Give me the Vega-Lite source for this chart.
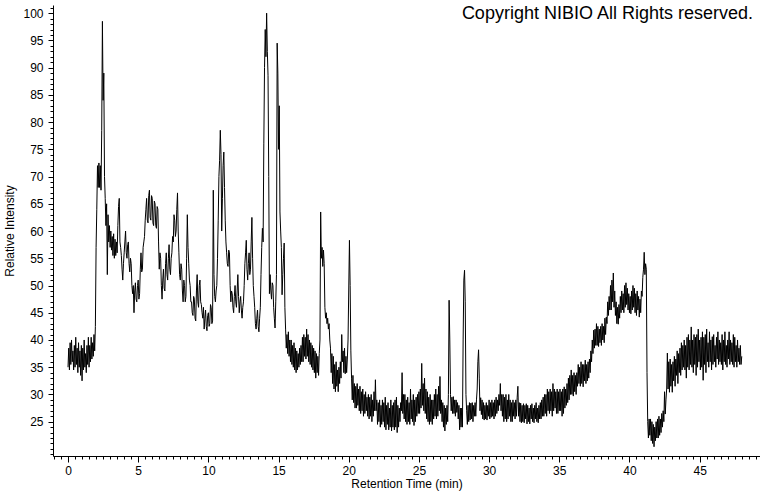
{
  "$schema": "https://vega.github.io/schema/vega-lite/v6.json",
  "width": 707,
  "height": 451,
  "autosize": {"type": "none"},
  "padding": {"left": 53, "top": 5, "right": 0, "bottom": 36},
  "background": "white",
  "config": {"view": {"stroke": null}, "font": "Liberation Sans"},
  "title": {"text": "Copyright NIBIO All Rights reserved.", "anchor": "end", "frame": "group", "orient": "top", "offset": -18, "dx": -7, "fontSize": 18, "fontWeight": "normal", "color": "black", "font": "Liberation Sans"},
  "data": {"values": [
{"t":0.00,"v":35},{"t":0.05,"v":38.5},{"t":0.10,"v":34.5},{"t":0.15,"v":39.5},{"t":0.20,"v":35.5},{"t":0.25,"v":40},{"t":0.30,"v":36},{"t":0.35,"v":38},{"t":0.40,"v":34.5},{"t":0.45,"v":39},{"t":0.50,"v":35},{"t":0.55,"v":40.5},{"t":0.60,"v":35.5},{"t":0.65,"v":38.5},{"t":0.70,"v":34},{"t":0.75,"v":39.5},{"t":0.80,"v":35},{"t":0.85,"v":38},{"t":0.90,"v":33.5},{"t":0.95,"v":39},
{"t":1.00,"v":32.5},{"t":1.05,"v":38.5},{"t":1.10,"v":34.5},{"t":1.15,"v":40},{"t":1.20,"v":35},{"t":1.25,"v":37.5},{"t":1.30,"v":34},{"t":1.35,"v":39},{"t":1.40,"v":35.5},{"t":1.45,"v":40.5},{"t":1.50,"v":35},{"t":1.55,"v":39},{"t":1.60,"v":36},{"t":1.65,"v":40.5},{"t":1.70,"v":36.5},{"t":1.75,"v":39.5},{"t":1.80,"v":37},{"t":1.85,"v":41},{"t":1.90,"v":38},{"t":1.95,"v":42.5},
{"t":2.0,"v":57},{"t":2.05,"v":64},{"t":2.1,"v":72},{"t":2.15,"v":68},{"t":2.2,"v":72.5},{"t":2.25,"v":68},{"t":2.3,"v":72},{"t":2.35,"v":67.5},{"t":2.4,"v":78.5},{"t":2.45,"v":98.5},{"t":2.5,"v":84},{"t":2.55,"v":89},{"t":2.6,"v":70},{"t":2.65,"v":66},{"t":2.7,"v":61},{"t":2.75,"v":65},{"t":2.8,"v":52},{"t":2.85,"v":63},{"t":2.9,"v":58},{"t":2.95,"v":61},
{"t":3.0,"v":57},{"t":3.05,"v":60},{"t":3.1,"v":56.5},{"t":3.15,"v":59},{"t":3.2,"v":55.5},{"t":3.25,"v":59.5},{"t":3.3,"v":55},{"t":3.35,"v":58.5},{"t":3.4,"v":55.5},{"t":3.45,"v":58},{"t":3.5,"v":56},{"t":3.55,"v":61},{"t":3.6,"v":64.5},{"t":3.65,"v":66},{"t":3.7,"v":58},{"t":3.75,"v":57},{"t":3.8,"v":55.5},{"t":3.85,"v":53},{"t":3.9,"v":51},{"t":3.95,"v":54},
{"t":4.0,"v":56},{"t":4.05,"v":58},{"t":4.1,"v":60},{"t":4.15,"v":56},{"t":4.2,"v":55},{"t":4.25,"v":57.5},{"t":4.3,"v":58},{"t":4.35,"v":54},{"t":4.4,"v":52.5},{"t":4.45,"v":55},{"t":4.5,"v":54},{"t":4.55,"v":50},{"t":4.6,"v":48.5},{"t":4.65,"v":50},{"t":4.7,"v":45},{"t":4.75,"v":49},{"t":4.8,"v":50.5},{"t":4.85,"v":47.5},{"t":4.9,"v":47},{"t":4.95,"v":50},
{"t":5.0,"v":51},{"t":5.05,"v":47.5},{"t":5.1,"v":48.5},{"t":5.15,"v":53},{"t":5.2,"v":56},{"t":5.25,"v":52.5},{"t":5.3,"v":53},{"t":5.35,"v":57},{"t":5.4,"v":58},{"t":5.45,"v":59},{"t":5.5,"v":62},{"t":5.55,"v":64},{"t":5.6,"v":66},{"t":5.65,"v":62},{"t":5.7,"v":61.5},{"t":5.75,"v":66.5},{"t":5.8,"v":67.5},{"t":5.85,"v":62.5},{"t":5.9,"v":62},{"t":5.95,"v":66.5},
{"t":6.0,"v":66},{"t":6.05,"v":61.5},{"t":6.1,"v":61},{"t":6.15,"v":65.5},{"t":6.2,"v":65},{"t":6.25,"v":61},{"t":6.3,"v":60.5},{"t":6.35,"v":64.5},{"t":6.4,"v":64},{"t":6.45,"v":58},{"t":6.5,"v":53},{"t":6.55,"v":56},{"t":6.6,"v":55},{"t":6.65,"v":50},{"t":6.7,"v":47.5},{"t":6.75,"v":51},{"t":6.8,"v":53},{"t":6.85,"v":49.5},{"t":6.9,"v":49},{"t":6.95,"v":54},
{"t":7.0,"v":56},{"t":7.05,"v":52},{"t":7.1,"v":51},{"t":7.15,"v":55},{"t":7.2,"v":57.5},{"t":7.25,"v":53},{"t":7.3,"v":52},{"t":7.35,"v":55},{"t":7.4,"v":56},{"t":7.45,"v":59},{"t":7.5,"v":58},{"t":7.55,"v":63},{"t":7.6,"v":62},{"t":7.65,"v":59},{"t":7.7,"v":60},{"t":7.75,"v":64},{"t":7.8,"v":67},{"t":7.85,"v":60},{"t":7.9,"v":56},{"t":7.95,"v":52},
{"t":8.0,"v":51},{"t":8.05,"v":54},{"t":8.1,"v":53},{"t":8.15,"v":49},{"t":8.2,"v":47},{"t":8.25,"v":51},{"t":8.3,"v":50},{"t":8.35,"v":47},{"t":8.4,"v":48},{"t":8.45,"v":55},{"t":8.5,"v":63},{"t":8.55,"v":57},{"t":8.6,"v":54},{"t":8.65,"v":51},{"t":8.7,"v":50},{"t":8.75,"v":47},{"t":8.8,"v":47},{"t":8.85,"v":45},{"t":8.9,"v":44.5},{"t":8.95,"v":48},
{"t":9.0,"v":47.5},{"t":9.05,"v":44},{"t":9.1,"v":43.5},{"t":9.15,"v":49},{"t":9.2,"v":52},{"t":9.25,"v":47},{"t":9.3,"v":46},{"t":9.35,"v":50},{"t":9.4,"v":51},{"t":9.45,"v":47},{"t":9.5,"v":46.5},{"t":9.55,"v":45},{"t":9.6,"v":44},{"t":9.65,"v":46},{"t":9.7,"v":42},{"t":9.75,"v":44},{"t":9.8,"v":45.5},{"t":9.85,"v":42.5},{"t":9.9,"v":41.7},{"t":9.95,"v":44.5},
{"t":10.0,"v":45},{"t":10.05,"v":42.5},{"t":10.1,"v":43},{"t":10.15,"v":46.5},{"t":10.2,"v":46},{"t":10.25,"v":43},{"t":10.3,"v":43.5},{"t":10.35,"v":67.5},{"t":10.4,"v":52},{"t":10.45,"v":48},{"t":10.5,"v":47},{"t":10.55,"v":49},{"t":10.6,"v":50},{"t":10.65,"v":55},{"t":10.7,"v":62},{"t":10.75,"v":70},{"t":10.8,"v":73},{"t":10.85,"v":78.5},{"t":10.9,"v":74},{"t":10.95,"v":60},
{"t":11.0,"v":66},{"t":11.05,"v":72},{"t":11.1,"v":74.5},{"t":11.15,"v":68},{"t":11.2,"v":62},{"t":11.25,"v":58},{"t":11.3,"v":56},{"t":11.35,"v":54},{"t":11.4,"v":53.5},{"t":11.45,"v":56.5},{"t":11.5,"v":56},{"t":11.55,"v":50},{"t":11.6,"v":47},{"t":11.65,"v":49},{"t":11.7,"v":48.5},{"t":11.75,"v":46},{"t":11.8,"v":45},{"t":11.85,"v":48},{"t":11.9,"v":50},{"t":11.95,"v":47},
{"t":12.0,"v":46},{"t":12.05,"v":49},{"t":12.1,"v":52},{"t":12.15,"v":48},{"t":12.2,"v":45},{"t":12.25,"v":47},{"t":12.3,"v":48},{"t":12.35,"v":45.5},{"t":12.4,"v":44},{"t":12.45,"v":46},{"t":12.5,"v":47},{"t":12.55,"v":50},{"t":12.6,"v":54},{"t":12.65,"v":56},{"t":12.7,"v":58.3},{"t":12.75,"v":53},{"t":12.8,"v":51},{"t":12.85,"v":54},{"t":12.9,"v":56},{"t":12.95,"v":52},
{"t":13.0,"v":53},{"t":13.05,"v":58},{"t":13.1,"v":62.5},{"t":13.15,"v":55},{"t":13.2,"v":50},{"t":13.25,"v":48},{"t":13.3,"v":46},{"t":13.35,"v":43},{"t":13.4,"v":42},{"t":13.45,"v":44},{"t":13.5,"v":45.5},{"t":13.55,"v":42.5},{"t":13.6,"v":41.5},{"t":13.65,"v":44},{"t":13.7,"v":46},{"t":13.75,"v":52},{"t":13.8,"v":57},{"t":13.85,"v":60.5},{"t":13.9,"v":58},{"t":13.95,"v":76},
{"t":14.0,"v":90},{"t":14.05,"v":97},{"t":14.1,"v":92},{"t":14.15,"v":100},{"t":14.2,"v":93},{"t":14.25,"v":88.5},{"t":14.3,"v":70},{"t":14.35,"v":48.5},{"t":14.4,"v":52},{"t":14.45,"v":49},{"t":14.5,"v":47.5},{"t":14.55,"v":50.5},{"t":14.6,"v":50},{"t":14.65,"v":46},{"t":14.7,"v":44},{"t":14.75,"v":42.2},{"t":14.8,"v":47},{"t":14.85,"v":52},{"t":14.9,"v":94.5},{"t":14.95,"v":89},
{"t":15.0,"v":75},{"t":15.05,"v":83},{"t":15.1,"v":63.5},{"t":15.15,"v":60},{"t":15.2,"v":57},{"t":15.25,"v":48.3},{"t":15.3,"v":52},{"t":15.35,"v":55},{"t":15.4,"v":57.8},{"t":15.45,"v":46},
{"t":15.50,"v":42},{"t":15.55,"v":38.5},{"t":15.60,"v":41},{"t":15.65,"v":37.5},{"t":15.70,"v":41.5},{"t":15.75,"v":37},{"t":15.80,"v":40},{"t":15.85,"v":36},{"t":15.90,"v":40},{"t":15.95,"v":35.5},
{"t":16.00,"v":39},{"t":16.05,"v":35},{"t":16.10,"v":39.5},{"t":16.15,"v":34.5},{"t":16.20,"v":38.5},{"t":16.25,"v":34},{"t":16.30,"v":38},{"t":16.35,"v":34.5},{"t":16.40,"v":37.5},{"t":16.45,"v":35},{"t":16.50,"v":38.5},{"t":16.55,"v":35.5},{"t":16.60,"v":39},{"t":16.65,"v":36},{"t":16.70,"v":40.5},{"t":16.75,"v":36},{"t":16.80,"v":41},{"t":16.85,"v":37},{"t":16.90,"v":40.5},{"t":16.95,"v":36.5},
{"t":17.00,"v":42},{"t":17.05,"v":37},{"t":17.10,"v":41},{"t":17.15,"v":36},{"t":17.20,"v":40},{"t":17.25,"v":35.5},{"t":17.30,"v":39.5},{"t":17.35,"v":35},{"t":17.40,"v":39},{"t":17.45,"v":34.5},{"t":17.50,"v":38.5},{"t":17.55,"v":34},{"t":17.60,"v":38},{"t":17.65,"v":33},{"t":17.70,"v":37.5},{"t":17.75,"v":34},{"t":17.80,"v":37},{"t":17.85,"v":33.5},{"t":17.90,"v":37.5},{"t":17.95,"v":40},
{"t":18.0,"v":63.5},{"t":18.05,"v":55},{"t":18.1,"v":57},{"t":18.15,"v":53.5},{"t":18.2,"v":56.5},{"t":18.25,"v":54},{"t":18.3,"v":46},{"t":18.35,"v":44},{"t":18.4,"v":45},{"t":18.45,"v":43},{"t":18.5,"v":44},{"t":18.55,"v":42},{"t":18.6,"v":43},{"t":18.65,"v":40},{"t":18.7,"v":38.5},
{"t":18.75,"v":34},{"t":18.80,"v":37.5},{"t":18.85,"v":32},{"t":18.90,"v":37},{"t":18.95,"v":31},{"t":19.00,"v":35.5},{"t":19.05,"v":30.5},{"t":19.10,"v":36},{"t":19.15,"v":31.5},{"t":19.20,"v":34.5},{"t":19.25,"v":30.5},{"t":19.30,"v":35},{"t":19.35,"v":32},{"t":19.40,"v":36},{"t":19.45,"v":33},{"t":19.50,"v":41},{"t":19.55,"v":36},{"t":19.60,"v":38},{"t":19.65,"v":34},{"t":19.70,"v":38.5},{"t":19.75,"v":33.8},{"t":19.80,"v":37},{"t":19.85,"v":34},{"t":19.90,"v":36.5},{"t":19.95,"v":40},
{"t":20.05,"v":58.3},{"t":20.1,"v":50},{"t":20.15,"v":38},
{"t":20.20,"v":33},{"t":20.25,"v":29},{"t":20.30,"v":33.5},{"t":20.35,"v":28.5},{"t":20.40,"v":32},{"t":20.45,"v":27.5},{"t":20.50,"v":31.5},{"t":20.55,"v":27.5},{"t":20.60,"v":32},{"t":20.65,"v":28},{"t":20.70,"v":31},{"t":20.75,"v":27},{"t":20.80,"v":31.5},{"t":20.85,"v":26.5},{"t":20.90,"v":30.5},{"t":20.95,"v":27},
{"t":21.00,"v":31},{"t":21.05,"v":26},{"t":21.10,"v":30},{"t":21.15,"v":26.5},{"t":21.20,"v":30.5},{"t":21.25,"v":27},{"t":21.30,"v":29.5},{"t":21.35,"v":26},{"t":21.40,"v":30},{"t":21.45,"v":25.5},{"t":21.50,"v":29.5},{"t":21.55,"v":26},{"t":21.60,"v":30},{"t":21.65,"v":25},{"t":21.70,"v":29},{"t":21.75,"v":26},{"t":21.80,"v":30.5},{"t":21.85,"v":27},{"t":21.90,"v":32.7},{"t":21.95,"v":27},
{"t":22.00,"v":29},{"t":22.05,"v":24.5},{"t":22.10,"v":28.5},{"t":22.15,"v":25},{"t":22.20,"v":29},{"t":22.25,"v":24},{"t":22.30,"v":28},{"t":22.35,"v":24.5},{"t":22.40,"v":29},{"t":22.45,"v":25},{"t":22.50,"v":28.5},{"t":22.55,"v":24},{"t":22.60,"v":29.5},{"t":22.65,"v":23.5},{"t":22.70,"v":28},{"t":22.75,"v":24.5},{"t":22.80,"v":28.5},{"t":22.85,"v":23.5},{"t":22.90,"v":27.5},{"t":22.95,"v":24},
{"t":23.00,"v":29},{"t":23.05,"v":23.3},{"t":23.10,"v":28},{"t":23.15,"v":24},{"t":23.20,"v":28.5},{"t":23.25,"v":23.5},{"t":23.30,"v":29},{"t":23.35,"v":24},{"t":23.40,"v":29.5},{"t":23.45,"v":23},{"t":23.50,"v":28},{"t":23.55,"v":24},{"t":23.60,"v":27.5},{"t":23.65,"v":25},{"t":23.70,"v":28.5},{"t":23.75,"v":27},{"t":23.80,"v":34},{"t":23.85,"v":26.5},{"t":23.90,"v":30},{"t":23.95,"v":25.5},
{"t":24.00,"v":30},{"t":24.05,"v":25},{"t":24.10,"v":29},{"t":24.15,"v":24.5},{"t":24.20,"v":29.5},{"t":24.25,"v":25},{"t":24.30,"v":28.5},{"t":24.35,"v":24.5},{"t":24.40,"v":31},{"t":24.45,"v":25.5},{"t":24.50,"v":29},{"t":24.55,"v":25},{"t":24.60,"v":30},{"t":24.65,"v":24.3},{"t":24.70,"v":29},{"t":24.75,"v":25},{"t":24.80,"v":29.5},{"t":24.85,"v":26},{"t":24.90,"v":30},{"t":24.95,"v":26.5},
{"t":25.00,"v":30.5},{"t":25.05,"v":26.5},{"t":25.10,"v":31},{"t":25.15,"v":27.5},{"t":25.20,"v":35.7},{"t":25.25,"v":28},{"t":25.30,"v":32},{"t":25.35,"v":27},{"t":25.40,"v":33},{"t":25.45,"v":26.5},{"t":25.50,"v":31},{"t":25.55,"v":25.5},{"t":25.60,"v":30.5},{"t":25.65,"v":25},{"t":25.70,"v":29.5},{"t":25.75,"v":24.5},{"t":25.80,"v":30},{"t":25.85,"v":25},{"t":25.90,"v":29},{"t":25.95,"v":24.5},
{"t":26.00,"v":29},{"t":26.05,"v":25.5},{"t":26.10,"v":30},{"t":26.15,"v":26},{"t":26.20,"v":31},{"t":26.25,"v":25.5},{"t":26.30,"v":30},{"t":26.35,"v":26},{"t":26.40,"v":31.5},{"t":26.45,"v":27},{"t":26.50,"v":33.3},{"t":26.55,"v":26.5},{"t":26.60,"v":29},{"t":26.65,"v":25},{"t":26.70,"v":28.5},{"t":26.75,"v":24},{"t":26.80,"v":28},{"t":26.85,"v":23.3},{"t":26.90,"v":27.5},{"t":26.95,"v":24.5},
{"t":27.00,"v":28},{"t":27.05,"v":25},{"t":27.10,"v":30},{"t":27.15,"v":47.3},{"t":27.20,"v":40},{"t":27.25,"v":30},{"t":27.30,"v":27},{"t":27.35,"v":29.5},{"t":27.40,"v":26.5},{"t":27.45,"v":29.6},{"t":27.50,"v":26.5},{"t":27.55,"v":29},{"t":27.60,"v":26},{"t":27.65,"v":29},{"t":27.70,"v":26.7},{"t":27.75,"v":28.5},{"t":27.80,"v":25.5},{"t":27.85,"v":28},{"t":27.90,"v":23.5},{"t":27.95,"v":27.5},
{"t":28.00,"v":24},{"t":28.05,"v":27.5},{"t":28.10,"v":24},{"t":28.15,"v":40},{"t":28.20,"v":51},{"t":28.25,"v":52.8},{"t":28.30,"v":47},{"t":28.35,"v":30},{"t":28.40,"v":27},{"t":28.45,"v":24.5},{"t":28.50,"v":28},{"t":28.55,"v":25},{"t":28.60,"v":28.5},{"t":28.65,"v":25.3},{"t":28.70,"v":28.4},{"t":28.75,"v":25.5},{"t":28.80,"v":28.5},{"t":28.85,"v":25},{"t":28.90,"v":28},{"t":28.95,"v":26},
{"t":29.00,"v":28.5},{"t":29.05,"v":26},{"t":29.10,"v":29},{"t":29.15,"v":31},{"t":29.20,"v":36},{"t":29.25,"v":38.2},{"t":29.30,"v":33},{"t":29.35,"v":27},{"t":29.40,"v":29.4},{"t":29.45,"v":26.3},{"t":29.50,"v":29},{"t":29.55,"v":25.5},{"t":29.60,"v":28.5},{"t":29.65,"v":25.3},{"t":29.70,"v":28},{"t":29.75,"v":25.5},{"t":29.80,"v":28.5},{"t":29.85,"v":25.3},{"t":29.90,"v":28},{"t":29.95,"v":26},
{"t":30.00,"v":29},{"t":30.05,"v":25.5},{"t":30.10,"v":28.5},{"t":30.15,"v":25.8},{"t":30.20,"v":29},{"t":30.25,"v":26},{"t":30.30,"v":28.5},{"t":30.35,"v":25.5},{"t":30.40,"v":29},{"t":30.45,"v":26},{"t":30.50,"v":29.5},{"t":30.55,"v":26.5},{"t":30.60,"v":29},{"t":30.65,"v":27},{"t":30.70,"v":30},{"t":30.75,"v":28},{"t":30.80,"v":32},{"t":30.85,"v":27},{"t":30.90,"v":30},{"t":30.95,"v":26},
{"t":31.00,"v":30},{"t":31.05,"v":25},{"t":31.10,"v":29.5},{"t":31.15,"v":25.5},{"t":31.20,"v":30},{"t":31.25,"v":25},{"t":31.30,"v":29},{"t":31.35,"v":25.5},{"t":31.40,"v":30},{"t":31.45,"v":26},{"t":31.50,"v":29},{"t":31.55,"v":25},{"t":31.60,"v":28.5},{"t":31.65,"v":25},{"t":31.70,"v":29},{"t":31.75,"v":26},{"t":31.80,"v":28.5},{"t":31.85,"v":25.5},{"t":31.90,"v":29},{"t":31.95,"v":26},
{"t":32.00,"v":29.5},{"t":32.05,"v":31.5},{"t":32.10,"v":26},{"t":32.15,"v":28.5},{"t":32.20,"v":25},{"t":32.25,"v":28.4},{"t":32.30,"v":24.8},{"t":32.35,"v":28},{"t":32.40,"v":25},{"t":32.45,"v":28.3},{"t":32.50,"v":24.8},{"t":32.55,"v":28},{"t":32.60,"v":25.5},{"t":32.65,"v":28.3},{"t":32.70,"v":24.6},{"t":32.75,"v":28},{"t":32.80,"v":25},{"t":32.85,"v":27.5},{"t":32.90,"v":24.6},{"t":32.95,"v":28},
{"t":33.00,"v":25.5},{"t":33.05,"v":28.3},{"t":33.10,"v":25},{"t":33.15,"v":27.5},{"t":33.20,"v":24.8},{"t":33.25,"v":28},{"t":33.30,"v":25.5},{"t":33.35,"v":28.5},{"t":33.40,"v":25},{"t":33.45,"v":27.5},{"t":33.50,"v":24.8},{"t":33.55,"v":28},{"t":33.60,"v":25.5},{"t":33.65,"v":28.5},{"t":33.70,"v":25.5},{"t":33.75,"v":29},{"t":33.80,"v":26},{"t":33.85,"v":29.5},{"t":33.90,"v":26},{"t":33.95,"v":30},
{"t":34.00,"v":26.5},{"t":34.05,"v":30},{"t":34.10,"v":26},{"t":34.15,"v":31},{"t":34.20,"v":27},{"t":34.25,"v":30.5},{"t":34.30,"v":26.5},{"t":34.35,"v":31},{"t":34.40,"v":27},{"t":34.45,"v":30.5},{"t":34.50,"v":26},{"t":34.55,"v":32},{"t":34.60,"v":27},{"t":34.65,"v":31},{"t":34.70,"v":27.5},{"t":34.75,"v":30.5},{"t":34.80,"v":26.5},{"t":34.85,"v":31},{"t":34.90,"v":26.5},{"t":34.95,"v":30.5},
{"t":35.00,"v":27},{"t":35.05,"v":31},{"t":35.10,"v":27},{"t":35.15,"v":30.5},{"t":35.20,"v":26},{"t":35.25,"v":31},{"t":35.30,"v":26.5},{"t":35.35,"v":31.4},{"t":35.40,"v":27.5},{"t":35.45,"v":31},{"t":35.50,"v":28},{"t":35.55,"v":32},{"t":35.60,"v":28.5},{"t":35.65,"v":33},{"t":35.70,"v":29},{"t":35.75,"v":33.5},{"t":35.80,"v":30},{"t":35.85,"v":34.5},{"t":35.90,"v":30},{"t":35.95,"v":33.5},
{"t":36.00,"v":29.7},{"t":36.05,"v":34},{"t":36.10,"v":30.5},{"t":36.15,"v":33.5},{"t":36.20,"v":30},{"t":36.25,"v":34},{"t":36.30,"v":31.5},{"t":36.35,"v":35.5},{"t":36.40,"v":32},{"t":36.45,"v":35},{"t":36.50,"v":31.5},{"t":36.55,"v":36},{"t":36.60,"v":32},{"t":36.65,"v":35.5},{"t":36.70,"v":31.4},{"t":36.75,"v":35.5},{"t":36.80,"v":32.5},{"t":36.85,"v":36.3},{"t":36.90,"v":32},{"t":36.95,"v":35.5},
{"t":37.00,"v":32.5},{"t":37.05,"v":36},{"t":37.10,"v":33},{"t":37.15,"v":36.5},{"t":37.20,"v":34},{"t":37.25,"v":38},{"t":37.30,"v":36},{"t":37.35,"v":40},{"t":37.40,"v":37.5},{"t":37.45,"v":41.8},{"t":37.50,"v":38.5},{"t":37.55,"v":42},{"t":37.60,"v":39},{"t":37.65,"v":43},{"t":37.70,"v":39},{"t":37.75,"v":42.5},{"t":37.80,"v":38.8},{"t":37.85,"v":42},{"t":37.90,"v":39.5},{"t":37.95,"v":42.5},
{"t":38.00,"v":39},{"t":38.05,"v":43},{"t":38.10,"v":40},{"t":38.15,"v":42.5},{"t":38.20,"v":39.5},{"t":38.25,"v":44},{"t":38.30,"v":41},{"t":38.35,"v":44.2},{"t":38.40,"v":43},{"t":38.45,"v":47},{"t":38.50,"v":44.5},{"t":38.55,"v":48},{"t":38.60,"v":45.5},{"t":38.65,"v":50},{"t":38.70,"v":45.5},{"t":38.75,"v":51},{"t":38.80,"v":47},{"t":38.85,"v":52.3},{"t":38.90,"v":46},{"t":38.95,"v":49},
{"t":39.00,"v":44.5},{"t":39.05,"v":47},{"t":39.10,"v":43},{"t":39.15,"v":46},{"t":39.20,"v":42.9},{"t":39.25,"v":46.5},{"t":39.30,"v":44},{"t":39.35,"v":48},{"t":39.40,"v":45},{"t":39.45,"v":49},{"t":39.50,"v":45.5},{"t":39.55,"v":48.5},{"t":39.60,"v":45},{"t":39.65,"v":50},{"t":39.70,"v":46},{"t":39.75,"v":50.5},{"t":39.80,"v":46.5},{"t":39.85,"v":49.5},{"t":39.90,"v":45.5},{"t":39.95,"v":48.5},
{"t":40.00,"v":45},{"t":40.05,"v":48},{"t":40.10,"v":44.8},{"t":40.15,"v":49},{"t":40.20,"v":45.5},{"t":40.25,"v":50},{"t":40.30,"v":46},{"t":40.35,"v":49.5},{"t":40.40,"v":45},{"t":40.45,"v":48.5},{"t":40.50,"v":44.5},{"t":40.55,"v":49},{"t":40.60,"v":45.5},{"t":40.65,"v":48},{"t":40.70,"v":44.2},{"t":40.75,"v":47.5},{"t":40.80,"v":45},{"t":40.85,"v":49},{"t":40.90,"v":48},{"t":40.95,"v":51.5},
{"t":41.00,"v":53},{"t":41.05,"v":56.1},{"t":41.10,"v":52},{"t":41.15,"v":54},{"t":41.20,"v":53},{"t":41.25,"v":34},
{"t":41.30,"v":25},{"t":41.35,"v":22},{"t":41.40,"v":25.5},{"t":41.45,"v":22.5},{"t":41.50,"v":25.5},{"t":41.55,"v":21.5},{"t":41.60,"v":25},{"t":41.65,"v":21},{"t":41.70,"v":24.5},{"t":41.75,"v":20.4},{"t":41.80,"v":24},{"t":41.85,"v":21.5},{"t":41.90,"v":25},{"t":41.95,"v":22},
{"t":42.00,"v":25.5},{"t":42.05,"v":22},{"t":42.10,"v":26},{"t":42.15,"v":22.5},{"t":42.20,"v":25.5},{"t":42.25,"v":23},{"t":42.30,"v":26.5},{"t":42.35,"v":24},{"t":42.40,"v":27},{"t":42.45,"v":25},{"t":42.50,"v":30.5},{"t":42.55,"v":26.4},{"t":42.60,"v":29},{"t":42.65,"v":31},{"t":42.70,"v":37.6},{"t":42.75,"v":31},{"t":42.80,"v":36},{"t":42.85,"v":30.4},{"t":42.90,"v":36.5},{"t":42.95,"v":31.5},
{"t":43.00,"v":35.5},{"t":43.05,"v":30.4},{"t":43.10,"v":36},{"t":43.15,"v":32.5},{"t":43.20,"v":37},{"t":43.25,"v":31.5},{"t":43.30,"v":36.5},{"t":43.35,"v":33.5},{"t":43.40,"v":38},{"t":43.45,"v":32},{"t":43.50,"v":37.5},{"t":43.55,"v":34},{"t":43.60,"v":38.5},{"t":43.65,"v":33.5},{"t":43.70,"v":39.5},{"t":43.75,"v":34.5},{"t":43.80,"v":39},{"t":43.85,"v":35},{"t":43.90,"v":40},{"t":43.95,"v":34.5},
{"t":44.00,"v":39},{"t":44.05,"v":33},{"t":44.10,"v":40.5},{"t":44.15,"v":35},{"t":44.20,"v":41},{"t":44.25,"v":34.5},{"t":44.30,"v":40},{"t":44.35,"v":35.5},{"t":44.40,"v":42.4},{"t":44.45,"v":35},{"t":44.50,"v":40},{"t":44.55,"v":34},{"t":44.60,"v":41},{"t":44.65,"v":35.5},{"t":44.70,"v":40.5},{"t":44.75,"v":33.5},{"t":44.80,"v":41},{"t":44.85,"v":35},{"t":44.90,"v":42},{"t":44.95,"v":36},
{"t":45.00,"v":40},{"t":45.05,"v":34.5},{"t":45.10,"v":40.5},{"t":45.15,"v":35},{"t":45.20,"v":41.5},{"t":45.25,"v":32.6},{"t":45.30,"v":40.5},{"t":45.35,"v":35.5},{"t":45.40,"v":41},{"t":45.45,"v":34},{"t":45.50,"v":42},{"t":45.55,"v":36},{"t":45.60,"v":39.5},{"t":45.65,"v":35},{"t":45.70,"v":41.5},{"t":45.75,"v":36},{"t":45.80,"v":40},{"t":45.85,"v":34.5},{"t":45.90,"v":40.6},{"t":45.95,"v":35.5},
{"t":46.00,"v":41},{"t":46.05,"v":36},{"t":46.10,"v":39},{"t":46.15,"v":35},{"t":46.20,"v":40.5},{"t":46.25,"v":36.5},{"t":46.30,"v":41.5},{"t":46.35,"v":35.5},{"t":46.40,"v":40},{"t":46.45,"v":36},{"t":46.50,"v":39.5},{"t":46.55,"v":35.5},{"t":46.60,"v":41},{"t":46.65,"v":34.5},{"t":46.70,"v":40},{"t":46.75,"v":36},{"t":46.80,"v":41.5},{"t":46.85,"v":35.5},{"t":46.90,"v":39},{"t":46.95,"v":35},
{"t":47.00,"v":40},{"t":47.05,"v":36.5},{"t":47.10,"v":41.5},{"t":47.15,"v":35.5},{"t":47.20,"v":40},{"t":47.25,"v":36},{"t":47.30,"v":39.5},{"t":47.35,"v":35.5},{"t":47.40,"v":41},{"t":47.45,"v":35},{"t":47.50,"v":40.5},{"t":47.55,"v":36},{"t":47.60,"v":39},{"t":47.65,"v":35},{"t":47.70,"v":40},{"t":47.75,"v":36},{"t":47.80,"v":38.5},{"t":47.85,"v":35.5},{"t":47.90,"v":39},{"t":47.95,"v":35.5},{"t":48.00,"v":37}
  ]},
  "layer": [
    {
      "mark": {"type": "line", "color": "black", "strokeWidth": 1, "interpolate": "linear"},
      "encoding": {
        "x": {"field": "t", "type": "quantitative", "scale": {"domain": [-1.07, 49.3], "nice": false, "zero": false},
          "axis": {"orient": "bottom", "values": [0,5,10,15,20,25,30,35,40,45], "title": "Retention Time (min)", "titleFontSize": 12, "titleFontWeight": "normal", "titleColor": "black", "titlePadding": 2, "labelFontSize": 12, "labelColor": "black", "tickSize": 6, "tickColor": "black", "domainColor": "black", "labelPadding": 3, "grid": false, "labelFlush": false}},
        "y": {"field": "v", "type": "quantitative", "scale": {"domain": [18.7, 101.5], "nice": false, "zero": false},
          "axis": {"orient": "left", "values": [25,30,35,40,45,50,55,60,65,70,75,80,85,90,95,100], "title": "Relative Intensity", "titleFontSize": 12, "titleFontWeight": "normal", "titleColor": "black", "titlePadding": 6, "labelFontSize": 12, "labelColor": "black", "tickSize": 5, "tickColor": "black", "domainColor": "black", "labelPadding": 5, "grid": false, "labelFlush": false}}
      }
    },
    {
      "mark": {"type": "line", "strokeOpacity": 0},
      "encoding": {
        "x": {"field": "t", "type": "quantitative",
          "axis": {"orient": "bottom", "values": [-1,-0.5,0,0.5,1,1.5,2,2.5,3,3.5,4,4.5,5,5.5,6,6.5,7,7.5,8,8.5,9,9.5,10,10.5,11,11.5,12,12.5,13,13.5,14,14.5,15,15.5,16,16.5,17,17.5,18,18.5,19,19.5,20,20.5,21,21.5,22,22.5,23,23.5,24,24.5,25,25.5,26,26.5,27,27.5,28,28.5,29,29.5,30,30.5,31,31.5,32,32.5,33,33.5,34,34.5,35,35.5,36,36.5,37,37.5,38,38.5,39,39.5,40,40.5,41,41.5,42,42.5,43,43.5,44,44.5,45,45.5,46,46.5,47,47.5,48,48.5,49], "labels": false, "title": null, "tickSize": 3, "tickColor": "black", "domain": false, "grid": false}},
        "y": {"field": "v", "type": "quantitative",
          "axis": {"orient": "left", "values": [19,20,21,22,23,24,25,26,27,28,29,30,31,32,33,34,35,36,37,38,39,40,41,42,43,44,45,46,47,48,49,50,51,52,53,54,55,56,57,58,59,60,61,62,63,64,65,66,67,68,69,70,71,72,73,74,75,76,77,78,79,80,81,82,83,84,85,86,87,88,89,90,91,92,93,94,95,96,97,98,99,100,101], "labels": false, "title": null, "tickSize": 3, "tickColor": "black", "domain": false, "grid": false}}
      }
    }
  ],
  "resolve": {"axis": {"x": "independent", "y": "independent"}}
}
